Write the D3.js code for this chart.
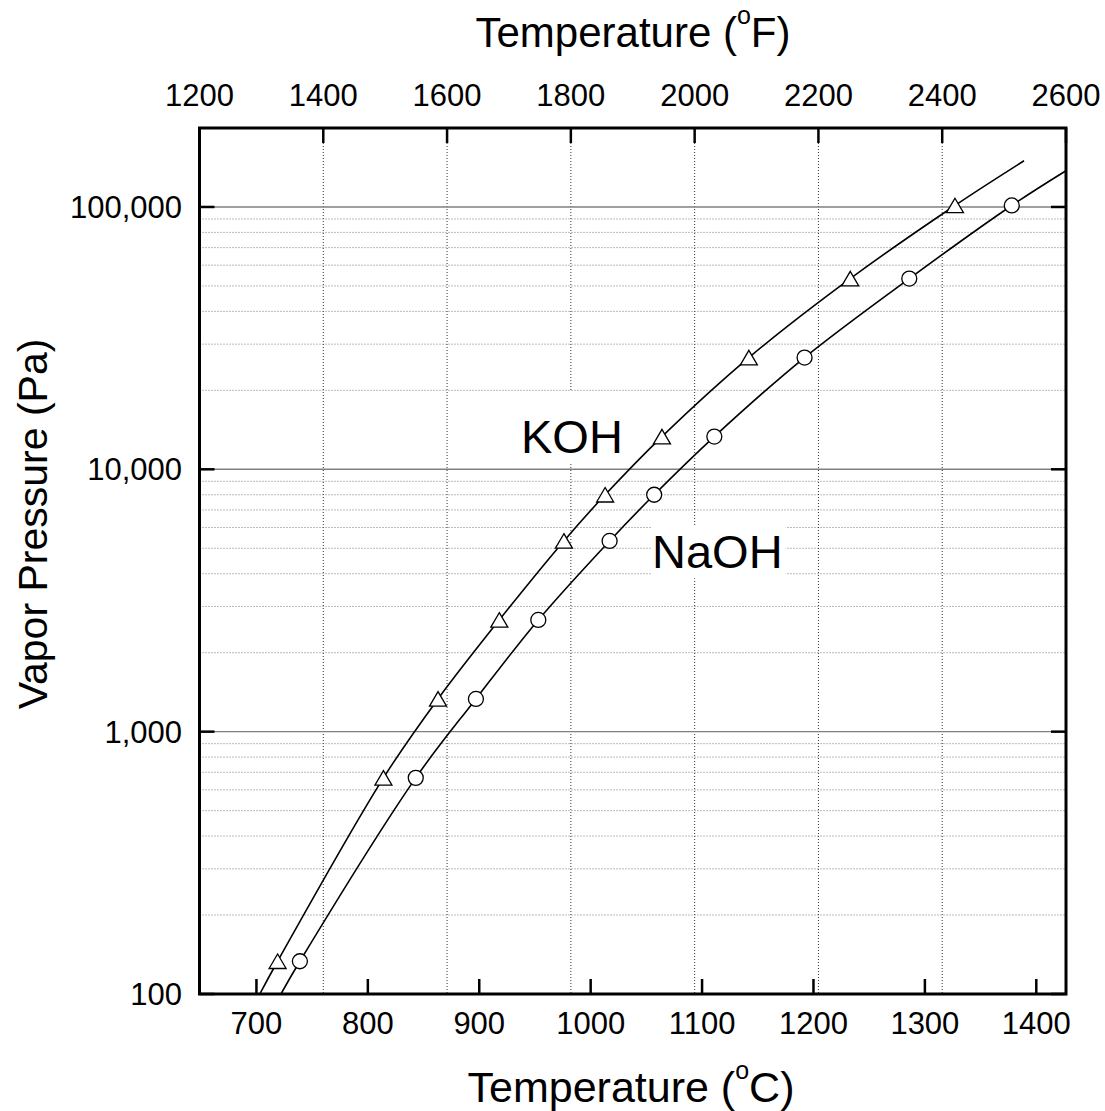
<!DOCTYPE html>
<html>
<head>
<meta charset="utf-8">
<script src="https://cdn.jsdelivr.net/npm/d3@7"></script>
<style>
  html, body { margin: 0; padding: 0; background: #fff; }
  svg { display: block; font-family: "Liberation Sans", Arial, Helvetica, sans-serif; }
</style>
</head>
<body>
<svg id="chart" width="1105" height="1111"></svg>
<script>
// ---------------- data ----------------
const fahrenheitTicks = [1200, 1400, 1600, 1800, 2000, 2200, 2400, 2600];
const celsiusTicks = [700, 800, 900, 1000, 1100, 1200, 1300, 1400];
const pressureTicks = [100, 1000, 10000, 100000];
const pressureTickLabels = ["100", "1,000", "10,000", "100,000"];
const fahrenheitDomain = [1200, 2600];
const pressureDomain = [100, 200000];

// measured points (vapor pressure in Pa)
const pressurePa = [133.3, 666.6, 1333, 2666, 5333, 7999, 13332, 26664, 53329, 101325];
const kohTempC  = [719, 814, 863, 918, 976, 1013, 1064, 1142, 1233, 1327];
const naohTempC = [739, 843, 897, 953, 1017, 1057, 1111, 1192, 1286, 1378];

// extended ends of the smooth curves
const kohCurveStart  = [703, 100];
const kohCurveEnd    = [1389, 150000];
const naohCurveStart = [722, 100];
const naohCurveEnd   = [1427, 137700];

const seriesLabels = ["KOH", "NaOH"];

// ---------------- layout ----------------
const svg = d3.select("#chart");
const plotL = 199.5, plotR = 1066, plotT = 128, plotB = 994;
const f2c = f => (f - 32) / 1.8;

const xF = d3.scaleLinear().domain(fahrenheitDomain).range([plotL, plotR]);
const xC = d3.scaleLinear().domain(fahrenheitDomain.map(f2c)).range([plotL, plotR]);
const y = d3.scaleLog().domain(pressureDomain).range([plotB, plotT]);

// minor values for grid
const minorP = [];
for (let dec = 100; dec < 200000; dec *= 10) {
  for (let k = 2; k <= 9; k++) {
    const v = dec * k;
    if (v < pressureDomain[1]) minorP.push(v);
  }
}

const grid = svg.append("g");
grid.selectAll("line.minor").data(minorP).enter().append("line")
  .attr("x1", plotL).attr("x2", plotR)
  .attr("y1", d => y(d)).attr("y2", d => y(d))
  .attr("stroke", "#777").attr("stroke-width", 1)
  .attr("stroke-dasharray", "1,2");
grid.selectAll("line.vf").data(fahrenheitTicks.filter(f => f > fahrenheitDomain[0] && f < fahrenheitDomain[1])).enter().append("line")
  .attr("x1", d => xF(d)).attr("x2", d => xF(d))
  .attr("y1", plotT).attr("y2", plotB)
  .attr("stroke", "#333").attr("stroke-width", 1)
  .attr("stroke-dasharray", "1,2");
grid.selectAll("line.major").data(pressureTicks.filter(p => p > pressureDomain[0])).enter().append("line")
  .attr("x1", plotL).attr("x2", plotR)
  .attr("y1", d => y(d)).attr("y2", d => y(d))
  .attr("stroke", "#808080").attr("stroke-width", 1.4);

// label boxes (white background) + labels
const labelG = svg.append("g");
const labelPos = [
  {text: seriesLabels[0], x: 521, y: 452.7, padTop: 18},
  {text: seriesLabels[1], x: 652, y: 568.3, padTop: 0}
];
labelPos.forEach(l => {
  const r = labelG.append("rect").attr("fill", "#fff");
  const t = labelG.append("text").attr("x", l.x).attr("y", l.y)
    .attr("font-size", 47).attr("fill", "#000").text(l.text);
  const bb = t.node().getBBox();
  r.attr("x", bb.x - 1).attr("y", bb.y - l.padTop)
   .attr("width", bb.width + 4).attr("height", bb.height + l.padTop);
});

svg.append("clipPath").attr("id", "plotclip").append("rect")
  .attr("x", plotL).attr("y", plotT).attr("width", plotR - plotL).attr("height", plotB - plotT);

const line = d3.line()
  .x(d => xC(d[0])).y(d => y(d[1]))
  .curve(d3.curveCatmullRom.alpha(0.5));

const kohPts = kohTempC.map((t, i) => [t, pressurePa[i]]);
const naohPts = naohTempC.map((t, i) => [t, pressurePa[i]]);

const curves = svg.append("g").attr("clip-path", "url(#plotclip)");
curves.append("path").datum([kohCurveStart, ...kohPts, kohCurveEnd])
  .attr("d", line).attr("fill", "none").attr("stroke", "#000").attr("stroke-width", 1.6);
curves.append("path").datum([naohCurveStart, ...naohPts, naohCurveEnd])
  .attr("d", line).attr("fill", "none").attr("stroke", "#000").attr("stroke-width", 1.6);

// markers
const triW = 17, triH = 14.5;
svg.append("g").selectAll("path").data(kohPts).enter().append("path")
  .attr("transform", d => `translate(${xC(d[0])},${y(d[1])})`)
  .attr("d", `M0,${-triH/2}L${triW/2},${triH/2}L${-triW/2},${triH/2}Z`)
  .attr("fill", "#fff").attr("stroke", "#000").attr("stroke-width", 1.3);
svg.append("g").selectAll("circle").data(naohPts).enter().append("circle")
  .attr("cx", d => xC(d[0])).attr("cy", d => y(d[1])).attr("r", 7.5)
  .attr("fill", "#fff").attr("stroke", "#000").attr("stroke-width", 1.3);

// ---------------- axes ----------------
const tickLen = 15, tickFont = 31;
const axisG = svg.append("g");
axisG.selectAll("line.bt").data(celsiusTicks).enter().append("line")
  .attr("x1", d => xC(d)).attr("x2", d => xC(d))
  .attr("y1", plotB).attr("y2", plotB - tickLen)
  .attr("stroke", "#000").attr("stroke-width", 2.5);
axisG.selectAll("text.bt").data(celsiusTicks).enter().append("text")
  .attr("x", d => xC(d)).attr("y", 1033.5)
  .attr("text-anchor", "middle").attr("font-size", tickFont).text(d => d);
axisG.selectAll("line.tt").data(fahrenheitTicks).enter().append("line")
  .attr("x1", d => xF(d)).attr("x2", d => xF(d))
  .attr("y1", plotT).attr("y2", plotT + tickLen)
  .attr("stroke", "#000").attr("stroke-width", 2.5);
axisG.selectAll("text.tt").data(fahrenheitTicks).enter().append("text")
  .attr("x", d => xF(d)).attr("y", 106)
  .attr("text-anchor", "middle").attr("font-size", tickFont).text(d => d);
axisG.selectAll("line.lt").data(pressureTicks).enter().append("line")
  .attr("x1", plotL).attr("x2", plotL + tickLen)
  .attr("y1", d => y(d)).attr("y2", d => y(d))
  .attr("stroke", "#000").attr("stroke-width", 2.5);
axisG.selectAll("line.rt").data(pressureTicks).enter().append("line")
  .attr("x1", plotR).attr("x2", plotR - tickLen)
  .attr("y1", d => y(d)).attr("y2", d => y(d))
  .attr("stroke", "#000").attr("stroke-width", 2.5);
axisG.selectAll("text.lt").data(pressureTicks).enter().append("text")
  .attr("x", 182).attr("y", d => y(d) + 11)
  .attr("text-anchor", "end").attr("font-size", tickFont)
  .text((d, i) => pressureTickLabels[i]);

svg.append("rect").attr("x", plotL).attr("y", plotT)
  .attr("width", plotR - plotL).attr("height", plotB - plotT)
  .attr("fill", "none").attr("stroke", "#000").attr("stroke-width", 3);

// ---------------- titles ----------------
function degTitle(x, yy, unit, size) {
  const t = svg.append("text").attr("x", x).attr("y", yy)
    .attr("text-anchor", "middle").attr("font-size", size);
  t.append("tspan").text("Temperature (");
  t.append("tspan").attr("font-size", 25).attr("dy", -23).text("o");
  t.append("tspan").attr("dy", 23).text(unit + ")");
}
degTitle(631, 1101.5, "C", 43);
degTitle(633, 46.5, "F", 42);

svg.append("text")
  .attr("transform", "translate(47,524) rotate(-90)")
  .attr("text-anchor", "middle").attr("font-size", 41)
  .text("Vapor Pressure (Pa)");
</script>
</body>
</html>
